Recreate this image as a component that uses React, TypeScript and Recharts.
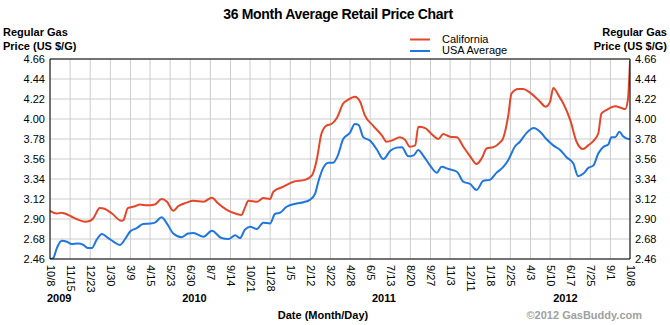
import React from "react";
import { LineChart, Line, XAxis, YAxis, CartesianGrid, ReferenceLine } from "recharts";

const FONT = "'Liberation Sans', Arial, Helvetica, sans-serif";
const RED = "#e5462a";
const BLUE = "#1f76e0";

// x values are days since 10/8/2009
const tickDays = [0, 38, 76, 114, 152, 189, 227, 265, 303, 341, 378, 416, 454, 492, 530, 567, 605, 643, 681, 719, 756, 794, 832, 870, 908, 945, 983, 1021, 1059, 1096];
const tickLabels = ["10/8", "11/15", "12/23", "1/30", "3/9", "4/15", "5/23", "6/30", "8/7", "9/14", "10/21", "11/28", "1/5", "2/12", "3/22", "4/28", "6/5", "7/13", "8/20", "9/27", "11/3", "12/11", "1/18", "2/25", "4/3", "5/10", "6/17", "7/25", "9/1", "10/8"];
const yearDays = [0, 273, 631, 974];
const yearLabels = ["2009", "2010", "2011", "2012"];
const yTicks = [2.46, 2.68, 2.9, 3.12, 3.34, 3.56, 3.78, 4.0, 4.22, 4.44, 4.66];

const caDays = [0, 13, 22, 28, 41, 50, 66, 76, 82, 94, 104, 117, 135, 139, 147, 161, 170, 183, 198, 211, 221, 233, 242, 258, 271, 290, 306, 318, 334, 353, 362, 368, 375, 391, 403, 416, 422, 441, 460, 482, 495, 504, 513, 523, 532, 542, 554, 563, 576, 586, 595, 610, 627, 636, 649, 661, 671, 680, 690, 696, 709, 721, 734, 743, 756, 769, 781, 794, 806, 816, 825, 838, 850, 856, 866, 872, 885, 894, 907, 923, 937, 945, 951, 961, 970, 983, 995, 1007, 1017, 1027, 1036, 1042, 1052, 1068, 1080, 1087, 1092, 1096];
const caPrices = [2.99, 2.96, 2.97, 2.96, 2.925, 2.9, 2.87, 2.88, 2.91, 3.02, 3.01, 2.96, 2.88, 2.89, 3.02, 3.04, 3.06, 3.05, 3.06, 3.12, 3.09, 2.99, 3.04, 3.08, 3.1, 3.09, 3.135, 3.07, 3.0, 2.955, 2.945, 3.02, 3.1, 3.09, 3.13, 3.12, 3.2, 3.255, 3.31, 3.33, 3.38, 3.55, 3.84, 3.93, 3.945, 4.01, 4.17, 4.21, 4.245, 4.19, 4.04, 3.93, 3.82, 3.75, 3.77, 3.8, 3.77, 3.695, 3.71, 3.915, 3.9, 3.835, 3.78, 3.835, 3.805, 3.8, 3.695, 3.59, 3.505, 3.57, 3.675, 3.69, 3.74, 3.785, 4.04, 4.28, 4.33, 4.33, 4.29, 4.21, 4.135, 4.19, 4.34, 4.26, 4.17, 3.99, 3.75, 3.67, 3.71, 3.76, 3.84, 4.06, 4.1, 4.14, 4.12, 4.11, 4.21, 4.64];

const usDays = [0, 6, 13, 22, 32, 41, 53, 63, 72, 79, 88, 98, 110, 120, 132, 142, 151, 164, 176, 189, 198, 211, 221, 233, 249, 261, 271, 290, 306, 324, 337, 350, 359, 368, 378, 391, 403, 416, 425, 435, 447, 466, 479, 491, 501, 507, 516, 526, 535, 544, 554, 567, 576, 583, 592, 605, 617, 630, 643, 655, 665, 677, 687, 696, 705, 718, 731, 740, 753, 769, 781, 794, 806, 819, 831, 844, 857, 866, 879, 888, 901, 914, 926, 938, 951, 964, 976, 989, 998, 1008, 1017, 1027, 1036, 1046, 1055, 1061, 1068, 1076, 1083, 1093, 1096];
const usPrices = [2.46, 2.47, 2.58, 2.66, 2.65, 2.625, 2.63, 2.615, 2.58, 2.58, 2.67, 2.735, 2.69, 2.65, 2.615, 2.68, 2.76, 2.8, 2.845, 2.85, 2.86, 2.92, 2.85, 2.74, 2.7, 2.74, 2.745, 2.705, 2.77, 2.69, 2.68, 2.72, 2.69, 2.78, 2.815, 2.79, 2.86, 2.85, 2.955, 2.97, 3.035, 3.07, 3.085, 3.11, 3.18, 3.31, 3.46, 3.52, 3.52, 3.6, 3.78, 3.85, 3.945, 3.935, 3.8, 3.76, 3.67, 3.56, 3.65, 3.685, 3.69, 3.59, 3.6, 3.66, 3.6, 3.49, 3.41, 3.475, 3.45, 3.42, 3.31, 3.285, 3.22, 3.32, 3.33, 3.41, 3.475, 3.55, 3.7, 3.75, 3.85, 3.9, 3.86, 3.78, 3.71, 3.66, 3.58, 3.51, 3.37, 3.4, 3.46, 3.49, 3.62, 3.695, 3.72, 3.8, 3.8, 3.86, 3.81, 3.78, 3.785];

const caData = caDays.map((d, i) => ({ day: d, price: caPrices[i] }));
const usData = usDays.map((d, i) => ({ day: d, price: usPrices[i] }));

const XTick = (props: any) => {
  const { x, y, payload } = props;
  const idx = tickDays.indexOf(payload.value);
  return (
    <text x={x} y={y} transform={`rotate(90 ${x} ${y})`} dy="0.3em" textAnchor="start" fontSize={11} fontFamily={FONT} fill="#000">
      {idx >= 0 ? tickLabels[idx] : ""}
    </text>
  );
};

const makeYearLabel = (i: number) => (p: any) => {
  const vb = p.viewBox || {};
  const x = vb.x ?? 0;
  const bottom = (vb.y ?? 0) + (vb.height ?? 0);
  return (
    <text x={i === 0 ? x - 3 : x} y={bottom + 43} textAnchor={i === 0 ? "start" : "middle"} fontSize={11} fontWeight="bold" fontFamily={FONT} fill="#000">
      {yearLabels[i]}
    </text>
  );
};

const yTickStyle = { fontSize: 11, fill: "#000", fontFamily: FONT };

export default function App() {
  return (
    <div style={{ position: "absolute", left: 0, top: 0, width: 670, height: 325, background: "#fff" }}>
      <LineChart width={670} height={325} margin={{ top: 59, right: 0, left: 0, bottom: 12 }}>
        <CartesianGrid yAxisId="left" stroke="#cccccc" strokeWidth={1} />
        <XAxis
          dataKey="day"
          type="number"
          domain={[0, 1096]}
          ticks={tickDays}
          interval={0}
          height={54}
          tickLine={false}
          tickSize={0}
          tickMargin={6}
          axisLine={{ stroke: "#000" }}
          tick={<XTick />}
          allowDataOverflow
        />
        <YAxis
          yAxisId="left"
          width={50}
          domain={[2.46, 4.66]}
          ticks={yTicks}
          interval={0}
          tickFormatter={(v: number) => v.toFixed(2)}
          tick={yTickStyle}
          tickLine={false}
          tickSize={0}
          tickMargin={5}
          axisLine={{ stroke: "#000" }}
          allowDataOverflow
        />
        <YAxis
          yAxisId="right"
          orientation="right"
          width={40}
          domain={[2.46, 4.66]}
          ticks={yTicks}
          interval={0}
          tickFormatter={(v: number) => v.toFixed(2)}
          tick={yTickStyle}
          tickLine={false}
          tickSize={0}
          tickMargin={5}
          axisLine={{ stroke: "#000" }}
          allowDataOverflow
        />
        <ReferenceLine yAxisId="left" y={4.66} stroke="#000" strokeWidth={1} />
        {yearDays.map((d, i) => (
          <ReferenceLine key={yearLabels[i]} yAxisId="left" x={d} stroke="none" label={makeYearLabel(i)} />
        ))}
        <Line yAxisId="left" data={caData} dataKey="price" type="monotone" stroke={RED} strokeWidth={2} dot={false} isAnimationActive={false} />
        <Line yAxisId="left" data={usData} dataKey="price" type="monotone" stroke={BLUE} strokeWidth={2} dot={false} isAnimationActive={false} />
      </LineChart>
      <svg width={670} height={325} style={{ position: "absolute", left: 0, top: 0, pointerEvents: "none" }}>
        <text x={338} y={18.5} textAnchor="middle" fontSize={14} fontWeight="bold" letterSpacing={-0.3} fontFamily={FONT} fill="#000">
          36 Month Average Retail Price Chart
        </text>
        <text x={3} y={36} fontSize={11} fontWeight="bold" fontFamily={FONT} fill="#000">Regular Gas</text>
        <text x={3} y={50} fontSize={11} fontWeight="bold" fontFamily={FONT} fill="#000">Price (US $/G)</text>
        <text x={667} y={36} textAnchor="end" fontSize={11} fontWeight="bold" fontFamily={FONT} fill="#000">Regular Gas</text>
        <text x={667} y={50} textAnchor="end" fontSize={11} fontWeight="bold" fontFamily={FONT} fill="#000">Price (US $/G)</text>
        <line x1={410} x2={430} y1={39.5} y2={39.5} stroke={RED} strokeWidth={2} />
        <text x={442} y={42.5} fontSize={11} fontFamily={FONT} fill="#000">California</text>
        <line x1={410} x2={430} y1={51} y2={51} stroke={BLUE} strokeWidth={2} />
        <text x={442} y={54} fontSize={11} fontFamily={FONT} fill="#000">USA Average</text>
        <text x={323} y={319} textAnchor="middle" fontSize={11} fontWeight="bold" fontFamily={FONT} fill="#000">Date (Month/Day)</text>
        <text x={642} y={319} textAnchor="end" fontSize={11} fontWeight="bold" fontFamily={FONT} fill="#a0a0a0">©2012 GasBuddy.com</text>
      </svg>
    </div>
  );
}
